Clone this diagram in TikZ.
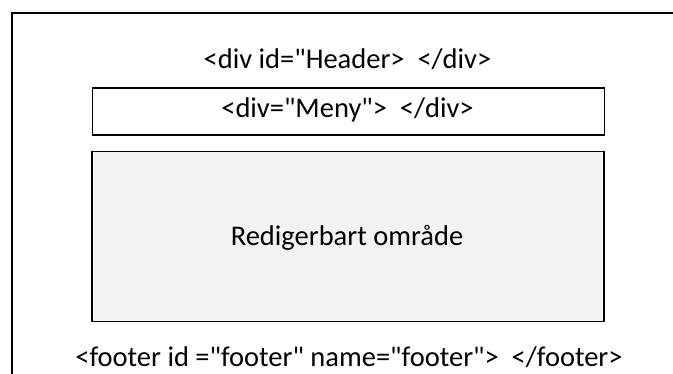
\documentclass[tikz,border=0pt]{standalone}
\usepackage{fontspec}
\setmainfont{Carlito}[Ligatures=TeXOff]
\begin{document}
\begin{tikzpicture}[x=1pt,y=-1pt,
  lbl/.style={font=\fontsize{28.5}{34}\selectfont, inner sep=0pt, anchor=base},
  box/.style={draw=black, line width=1.3pt}]
\useasboundingbox (0,0) rectangle (673,374);
\draw[line width=2pt] (12,13) rectangle (690,400);
\node[box, minimum width=512pt, minimum height=47pt, anchor=north west, inner sep=0pt] (meny) at (91.7,87.3) {};
\node[box, fill={rgb,255:red,242;green,242;blue,242}, minimum width=512pt, minimum height=170pt, anchor=north west, inner sep=0pt] (omr) at (91.3,150.8) {};
\node[lbl] (menytxt) at (347.5,118) {<div="Meny"> \ </div>};
\node[lbl] (omrtxt) at (347,246) {Redigerbart område};
\node[lbl] (header) at (347.5,69) {<div id="Header> \ </div>};
\node[lbl] (footer) at (349,367) {<footer id ="footer" name="footer"> \ </footer>};
\end{tikzpicture}
\end{document}
